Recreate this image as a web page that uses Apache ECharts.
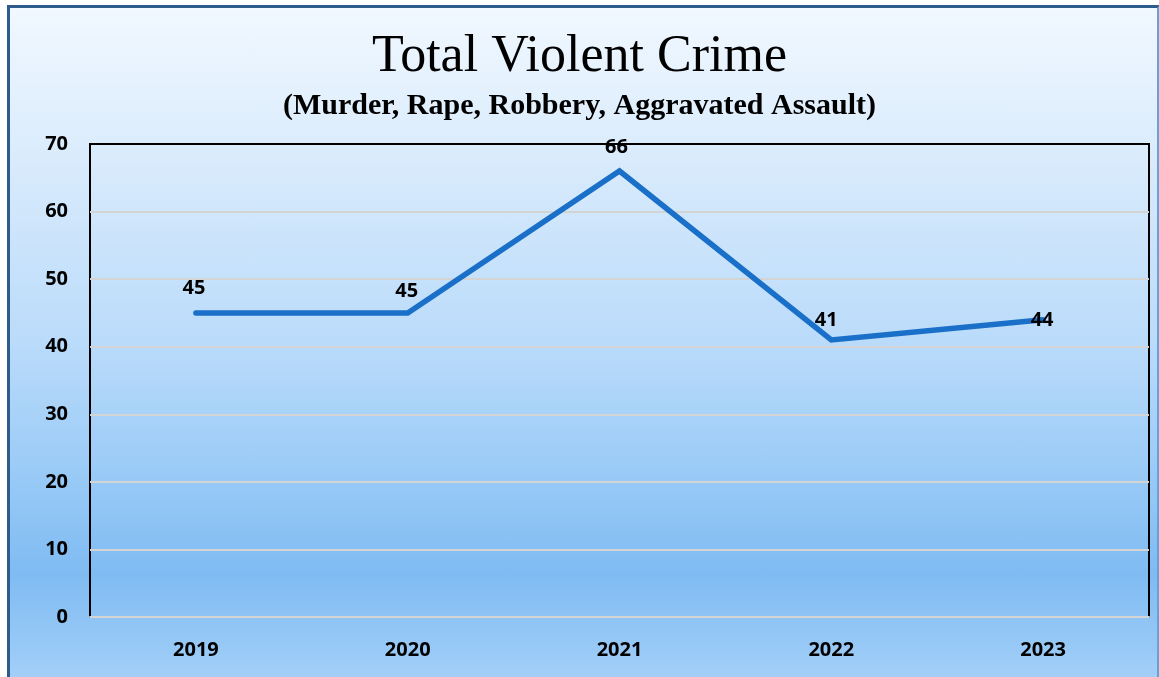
<!DOCTYPE html>
<html>
<head>
<meta charset="utf-8">
<title>Total Violent Crime</title>
<script src="https://cdn.jsdelivr.net/npm/echarts@6/dist/echarts.min.js"></script>
<style>
  html, body { margin: 0; padding: 0; background: #ffffff; overflow: hidden; }
  #frame {
    position: absolute; left: 7px; top: 5px; width: 1147px; height: 690px;
    border: 3px solid #2c5b8c; border-right-color: #6c9fd6;
    background: linear-gradient(to bottom, #f1f8ff 0%, #d9ebfc 22%, #b8dafa 50%, #95c8f6 70%, #7fbbf2 82%, #a9d3f9 100%);
  }
  #chart { position: absolute; left: 0; top: 0; width: 1159px; height: 677px; }
</style>
</head>
<body>
<div id="frame"></div>
<div id="chart"></div>
<script>
// Yearly totals of violent crime offences
const years = ['2019', '2020', '2021', '2022', '2023'];
const violentCrime = [45, 45, 66, 41, 44];
const yTicks = { min: 0, max: 70, step: 10 };

// where each value label sits relative to its point
const labelNudges = [[-2, -25], [-1, -22], [-3, -24], [-5, -20], [-1, 1]];

const labelFont = { fontFamily: 'Open Sans', fontWeight: 'bold', fontSize: 20, color: '#000' };

// grid lines are light grey, the one at the top doubles as the black plot frame
const tickCount = (yTicks.max - yTicks.min) / yTicks.step + 1;
const gridLineColors = Array.from({ length: tickCount }, (_, i) => i === tickCount - 1 ? '#000000' : '#d4d4d4');

const chart = echarts.init(document.getElementById('chart'), null, { renderer: 'canvas' });

chart.setOption({
  backgroundColor: 'transparent',
  animation: false,
  title: [
    {
      text: 'Total Violent Crime',
      left: 'center', top: 26,
      textStyle: { fontFamily: 'Liberation Serif', fontWeight: 'normal', fontSize: 52, color: '#000' }
    },
    {
      text: '(Murder, Rape, Robbery, Aggravated Assault)',
      left: 'center', top: 86,
      textStyle: { fontFamily: 'Liberation Serif', fontWeight: 'bold', fontSize: 30, color: '#000' }
    }
  ],
  grid: {
    left: 90, right: 10, top: 144, bottom: 60,
    show: true, borderColor: '#000', borderWidth: 2, backgroundColor: 'transparent'
  },
  xAxis: {
    type: 'category',
    data: years,
    boundaryGap: true,
    axisLine: { show: true, lineStyle: { color: '#d4d4d4', width: 2 } },
    axisTick: { show: false },
    axisLabel: Object.assign({ margin: 23 }, labelFont),
    splitLine: { show: false }
  },
  yAxis: {
    type: 'value',
    min: yTicks.min, max: yTicks.max, interval: yTicks.step,
    axisLine: { show: false },
    axisTick: { show: false },
    axisLabel: Object.assign({ margin: 22 }, labelFont),
    splitLine: { show: true, lineStyle: { color: gridLineColors, width: 2 } }
  },
  series: [{
    type: 'line',
    data: violentCrime.map((v, i) => ({
      value: v,
      label: { offset: labelNudges[i] }
    })),
    symbol: 'circle',
    symbolSize: 1,
    itemStyle: { color: '#1a70c8' },
    lineStyle: { color: '#1a70c8', width: 5.5, cap: 'round', join: 'miter' },
    label: Object.assign({ show: true, position: 'inside' }, labelFont),
    z: 3
  }]
});
</script>
</body>
</html>
